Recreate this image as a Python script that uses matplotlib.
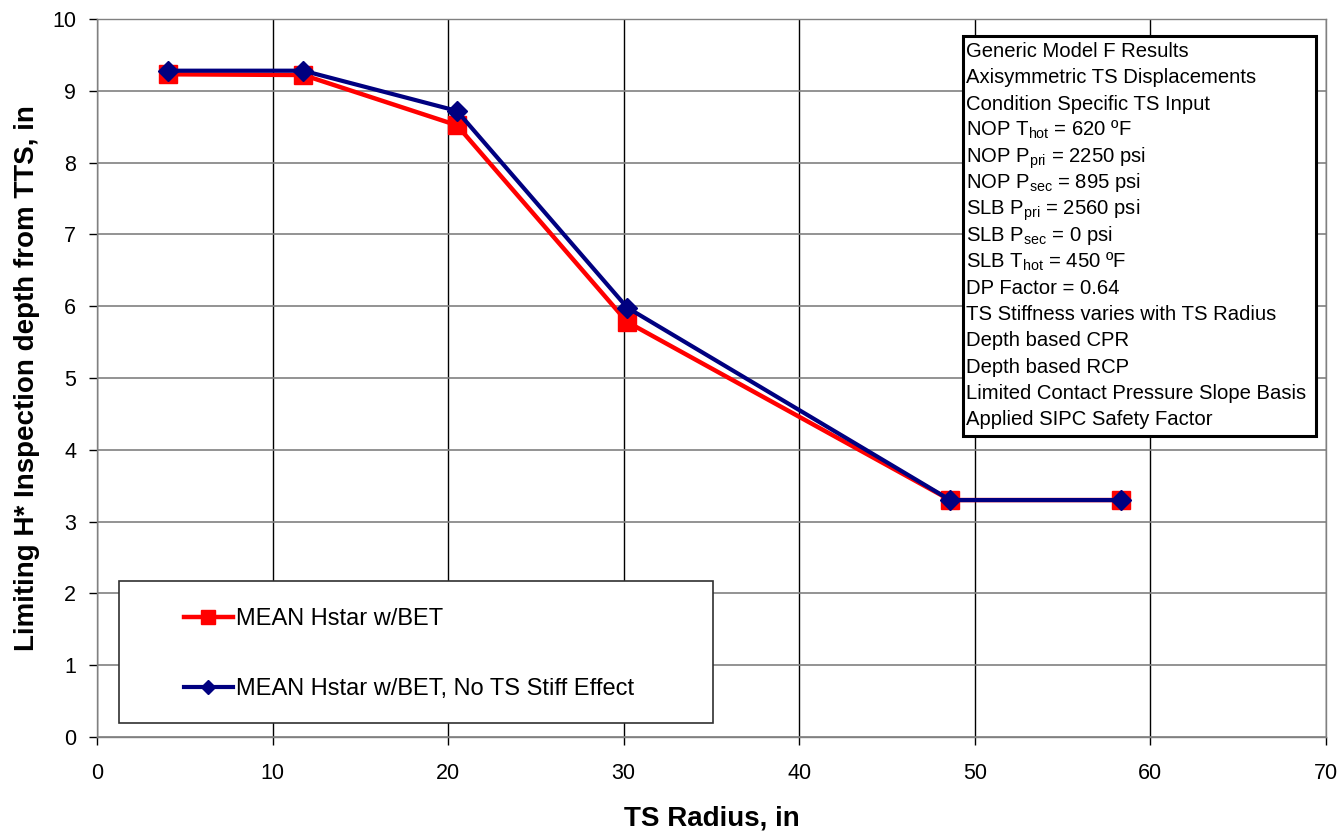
import matplotlib
matplotlib.use("Agg")
import matplotlib.pyplot as plt
from matplotlib.patches import Rectangle

plt.rcParams['font.family'] = ['Liberation Sans', 'DejaVu Sans']
plt.rcParams['mathtext.fontset'] = 'custom'
plt.rcParams['mathtext.rm'] = 'Liberation Sans'
plt.rcParams['mathtext.it'] = 'Liberation Sans:italic'

# TS radius (in) and limiting H* depth (in)
radius = [4.05, 11.75, 20.5, 30.2, 48.6, 58.3]
hstar_bet = [9.23, 9.22, 8.52, 5.78, 3.30, 3.30]
hstar_no_stiff = [9.28, 9.28, 8.72, 5.98, 3.30, 3.30]

series_labels = ["MEAN Hstar w/BET", "MEAN Hstar w/BET, No TS Stiff Effect"]

notes = [
    "Generic Model F Results",
    "Axisymmetric TS Displacements",
    "Condition Specific TS Input",
    r"NOP T$_\mathrm{hot}$ = 620 ºF",
    r"NOP P$_\mathrm{pri}$ = 2250 psi",
    r"NOP P$_\mathrm{sec}$ = 895 psi",
    r"SLB P$_\mathrm{pri}$ = 2560 psi",
    r"SLB P$_\mathrm{sec}$ = 0 psi",
    r"SLB T$_\mathrm{hot}$ = 450 ºF",
    "DP Factor = 0.64",
    "TS Stiffness varies with TS Radius",
    "Depth based CPR",
    "Depth based RCP",
    "Limited Contact Pressure Slope Basis",
    "Applied SIPC Safety Factor",
]

fig = plt.figure(figsize=(13.41, 8.32), dpi=100)
ax = fig.add_axes([97 / 1341, 95 / 832, 1229 / 1341, 718 / 832])

ax.plot(radius, hstar_bet, color='#ff0000', lw=3.2, marker='s', ms=13,
        mec='#ff0000', mfc='#ff0000', label=series_labels[0], zorder=3)
ax.plot(radius, hstar_no_stiff, color='#000080', lw=3.0, marker='D', ms=10,
        mec='#000080', mfc='#000080', label=series_labels[1], zorder=4)

ax.set_xlim(0, 70)
ax.set_ylim(0, 10)
ax.set_xticks(range(0, 71, 10))
ax.set_yticks(range(0, 11))
ax.tick_params(labelsize=15.5, direction='out', length=6, width=1,
               colors='black')
ax.tick_params(axis='x', pad=13)
ax.tick_params(axis='y', pad=9)
ax.grid(True, axis='x', color='black', lw=1)
ax.grid(True, axis='y', color='#808080', lw=1.2)
ax.set_axisbelow(True)
for s in ax.spines.values():
    s.set_color('#808080')
    s.set_linewidth(1)

ax.set_xlabel("TS Radius, in", fontsize=20, fontweight='bold', labelpad=15)
ax.set_ylabel("Limiting H* Inspection depth from TTS, in", fontsize=20,
              fontweight='bold', labelpad=9)

# legend panel in the lower left
leg_box = Rectangle((0.018, 0.0195), 0.483, 0.1975, transform=ax.transAxes,
                    facecolor='white', edgecolor='#303030', lw=1.2, zorder=5)
ax.add_patch(leg_box)
leg = ax.legend(loc='upper left', bbox_to_anchor=(0.057, 0.202), frameon=False,
                fontsize=17, handlelength=2.1, handletextpad=0.13,
                labelspacing=2.02, borderpad=0.2, markerscale=0.75)
leg.set_zorder(6)

# notes panel in the upper right
note_box = Rectangle((0.705, 0.419), 0.287, 0.557, transform=ax.transAxes,
                     facecolor='white', edgecolor='black', lw=2.2, zorder=5)
ax.add_patch(note_box)
first_baseline = 57
spacing = 26.3
for i, line in enumerate(notes):
    ypix = first_baseline + i * spacing
    ax.text(0.707, (737 - ypix) / 718, line, transform=ax.transAxes,
            fontsize=14.6, va='baseline', ha='left', zorder=6)

fig.savefig("out.png", dpi=100)
